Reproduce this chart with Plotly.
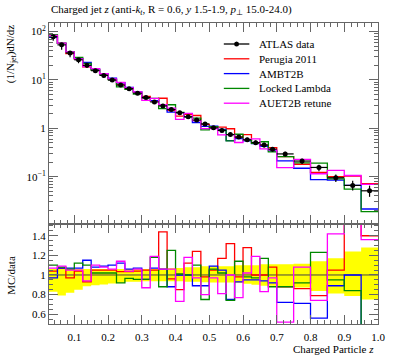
import plotly.graph_objects as go
import math

# ---------------- data ----------------
edges = [0.025, 0.05, 0.075, 0.1, 0.125, 0.15, 0.175, 0.2, 0.225, 0.25, 0.275, 0.3,
         0.325, 0.35, 0.375, 0.4, 0.425, 0.45, 0.475, 0.5, 0.525, 0.55, 0.575, 0.6,
         0.625, 0.65, 0.675, 0.7, 0.75, 0.8, 0.85, 0.9, 0.95, 1.0]

atlas = [78, 53, 36, 26, 20, 15.5, 12.4, 9.9, 7.8, 6.6, 5.3, 4.35, 3.5, 2.9, 2.45,
         2.1, 1.73, 1.48, 1.23, 1.02, 0.9, 0.74, 0.66, 0.58, 0.505, 0.45, 0.37,
         0.295, 0.21, 0.155, 0.095, 0.066, 0.051]
# relative data uncertainty (up / down)
err_up = [0.06, 0.06, 0.06, 0.06, 0.06, 0.06, 0.06, 0.06, 0.06, 0.06, 0.06, 0.06,
          0.06, 0.07, 0.07, 0.07, 0.08, 0.08, 0.09, 0.09, 0.09, 0.09, 0.10, 0.10,
          0.10, 0.11, 0.11, 0.11, 0.115, 0.14, 0.17, 0.24, 0.28]
err_dn = [0.17, 0.21, 0.18, 0.15, 0.115, 0.105, 0.097, 0.087, 0.08, 0.07, 0.07, 0.065,
          0.065, 0.065, 0.065, 0.065, 0.07, 0.07, 0.075, 0.076, 0.076, 0.076, 0.08,
          0.09, 0.10, 0.11, 0.11, 0.118, 0.128, 0.163, 0.188, 0.215, 0.25]

# MC / data ratios
r_perugia = [1.04, 1.07, 0.97, 1.04, 0.93, 1.05, 1.05, 1.05, 1.035, 1.035, 1.04, 1.05,
             1.05, 1.44, 0.96, 0.85, 1.12, 1.24, 0.98, 1.05, 1.17, 1.32, 0.98, 1.28,
             1.00, 1.00, 1.08, 0.88, 0.86, 0.79, 1.05, 1.55, 1.40]
r_ambt2b = [0.97, 1.07, 1.07, 1.07, 1.15, 1.08, 1.09, 1.10, 1.12, 1.06, 1.07, 0.955,
            1.07, 1.06, 0.88, 1.00, 1.00, 0.89, 0.89, 1.09, 1.05, 0.75, 0.93, 0.95,
            0.95, 0.94, 0.92, 0.72, 0.71, 0.56, 0.89, 1.00, 0.42]
r_locked = [1.10, 1.08, 1.06, 1.12, 1.10, 1.02, 1.02, 1.02, 0.92, 0.965, 0.955, 0.955,
            1.18, 0.88, 1.25, 1.01, 1.00, 1.10, 0.75, 1.06, 1.02, 0.74, 1.14, 0.98,
            0.97, 1.17, 0.88, 0.88, 0.92, 1.23, 0.95, 0.84, 0.37]
r_auet2b = [1.07, 1.09, 1.05, 1.05, 0.94, 1.10, 1.08, 1.06, 1.14, 1.04, 1.06, 0.87,
            1.19, 1.06, 1.06, 0.73, 1.18, 0.97, 0.80, 0.97, 0.81, 1.00, 0.77, 1.02,
            1.19, 0.83, 0.97, 0.52, 1.08, 0.74, 1.42, 1.60, 1.36]

mc_names = ["Perugia 2011", "AMBT2B", "Locked Lambda", "AUET2B retune"]
mc_ratios = [r_perugia, r_ambt2b, r_locked, r_auet2b]
mc_colors = ["#ff0000", "#0000ff", "#008800", "#ff00ff"]

title_txt = ("Charged jet <i>z</i> (anti-<i>k<sub>t</sub></i>, R = 0.6, <i>y</i> 1.5-1.9, "
             "<i>p</i><sub>⊥</sub> 15.0-24.0)")
x_ticks = [0.1, 0.2, 0.3, 0.4, 0.5, 0.6, 0.7, 0.8, 0.9, 1.0]
x_ticktext = ["0.1", "0.2", "0.3", "0.4", "0.5", "0.6", "0.7", "0.8", "0.9", "1.0"]
r_ticks = [0.6, 0.8, 1.0, 1.2, 1.4]
r_ticktext = ["0.6", "0.8", "1", "1.2", "1.4"]

# ---------------- figure ----------------
FONT = "Liberation Serif"
W, H = 397, 358
ML, MR, MT, MB = 49, 13, 23, 34
PW, PH = W - ML - MR, H - MT - MB
split = 100 / PH  # ratio panel height fraction

centers = [(edges[i] + edges[i + 1]) / 2 for i in range(len(atlas))]
halfw = [(edges[i + 1] - edges[i]) / 2 for i in range(len(atlas))]


def step(vals):
    return list(vals) + [vals[-1]]


fig = go.Figure()

# ratio panel: yellow data band
band_lo = [1 - d for d in err_dn]
band_hi = [1 + u for u in err_up]
fig.add_trace(go.Scatter(x=edges, y=step(band_lo), mode="lines", line=dict(width=0, shape="hv"),
                         xaxis="x", yaxis="y", showlegend=False, hoverinfo="skip"))
fig.add_trace(go.Scatter(x=edges, y=step(band_hi), mode="lines", line=dict(width=0, shape="hv"),
                         fill="tonexty", fillcolor="#ffff00", xaxis="x", yaxis="y",
                         showlegend=False, hoverinfo="skip"))
fig.add_trace(go.Scatter(x=[edges[0], edges[-1]], y=[1, 1], mode="lines",
                         line=dict(color="#444444", width=1), xaxis="x", yaxis="y",
                         showlegend=False, hoverinfo="skip"))

for name, rat, col in zip(mc_names, mc_ratios, mc_colors):
    mc = [a * r for a, r in zip(atlas, rat)]
    fig.add_trace(go.Scatter(x=edges, y=step(mc), mode="lines", name=name,
                             line=dict(color=col, width=1.3, shape="hv"),
                             xaxis="x2", yaxis="y2", showlegend=False))
    fig.add_trace(go.Scatter(x=edges, y=step(rat), mode="lines", name=name,
                             line=dict(color=col, width=1.3, shape="hv"),
                             xaxis="x", yaxis="y", showlegend=False))

fig.add_trace(go.Scatter(
    x=centers, y=atlas, mode="markers", name="ATLAS data",
    marker=dict(color="black", size=5),
    error_y=dict(type="data", symmetric=False,
                 array=[a * u for a, u in zip(atlas, err_up)],
                 arrayminus=[a * d for a, d in zip(atlas, err_dn)],
                 color="black", thickness=1.2, width=0),
    error_x=dict(type="data", array=halfw, color="black", thickness=1.2, width=0),
    xaxis="x2", yaxis="y2", showlegend=False))

axcol = "#666666"
log_minor = []
for dec in [0.01, 0.1, 1, 10, 100]:
    for m in range(2, 10):
        log_minor.append(dec * m)

common_x = dict(range=[edges[0], edges[-1]], showgrid=False, zeroline=False,
                showline=True, linecolor=axcol, linewidth=1, mirror="allticks",
                ticks="inside", ticklen=9, tickcolor=axcol,
                tickmode="array", tickvals=x_ticks,
                minor=dict(ticks="inside", ticklen=4, tickcolor=axcol,
                           tickmode="array",
                           tickvals=[round(0.02 * i, 2) for i in range(2, 50)]))

fig.update_layout(
    width=W, height=H, margin=dict(l=ML, r=MR, t=MT, b=MB),
    paper_bgcolor="white", plot_bgcolor="white",
    font=dict(family=FONT, size=11, color="black"),
    xaxis=dict(common_x, anchor="y", ticktext=x_ticktext, showticklabels=True,
               tickfont=dict(size=11), ticklabelstandoff=3),
    xaxis2=dict(common_x, anchor="y2", matches="x", showticklabels=False),
    yaxis=dict(domain=[0, split], range=[0.5, 1.52], showgrid=False, zeroline=False,
               showline=True, linecolor=axcol, mirror="allticks", ticks="inside",
               ticklen=9, tickcolor=axcol, tickmode="array", tickvals=r_ticks,
               ticktext=r_ticktext, tickfont=dict(size=11),
               minor=dict(ticks="inside", ticklen=4, tickcolor=axcol, tickmode="array",
                          tickvals=[0.55, 0.65, 0.7, 0.75, 0.85, 0.9, 0.95, 1.05, 1.1,
                                    1.15, 1.25, 1.3, 1.35, 1.45, 1.5])),
    yaxis2=dict(domain=[split, 1], type="log",
                range=[math.log10(0.0105), math.log10(150)], showgrid=False,
                zeroline=False, showline=True, linecolor=axcol, mirror="allticks",
                ticks="inside", ticklen=9, tickcolor=axcol, tickmode="array",
                tickvals=[0.1, 1, 10, 100],
                ticktext=["10<sup>−1</sup>", "1", "10<sup>1</sup>", "10<sup>2</sup>"],
                tickfont=dict(size=11),
                minor=dict(ticks="inside", ticklen=4, tickcolor=axcol, tickmode="array",
                           tickvals=log_minor)),
)


def px(xp):
    return (xp - ML) / PW


def py(yp):
    return (H - MB - yp) / PH


ann = [
    dict(text=title_txt, x=px(49), y=py(10), xanchor="left", yanchor="middle",
         font=dict(size=11)),
    dict(text="(1/N<sub>jet</sub>)dN/dz", x=px(10), y=py(22), xanchor="center",
         yanchor="top", textangle=-90, font=dict(size=11)),
    dict(text="MC/data", x=px(10), y=py(275), xanchor="center", yanchor="middle",
         textangle=-90, font=dict(size=11)),
    dict(text="Charged Particle <i>z</i>", x=px(382), y=py(349), xanchor="right",
         yanchor="middle", font=dict(size=11)),
]
legend_items = [("ATLAS data", "black")] + list(zip(mc_names, mc_colors))
shapes = []
for i, (nm, col) in enumerate(legend_items):
    yy = 44 + 14.8 * i
    shapes.append(dict(type="line", xref="paper", yref="paper", x0=px(227), x1=px(253),
                       y0=py(yy), y1=py(yy), line=dict(color=col, width=1.3)))
    ann.append(dict(text=nm, x=px(261), y=py(yy), xanchor="left", yanchor="middle",
                    font=dict(size=11)))
shapes.append(dict(type="circle", xref="paper", yref="paper", x0=px(237.5), x1=px(242.5),
                   y0=py(46.5), y1=py(41.5), fillcolor="black", line=dict(width=0)))
for a in ann:
    a.update(xref="paper", yref="paper", showarrow=False)
fig.update_layout(annotations=ann, shapes=shapes)

fig.write_html("out.html", config={"displayModeBar": False},
               post_script="document.body.style.margin='0';document.body.style.padding='0';")
